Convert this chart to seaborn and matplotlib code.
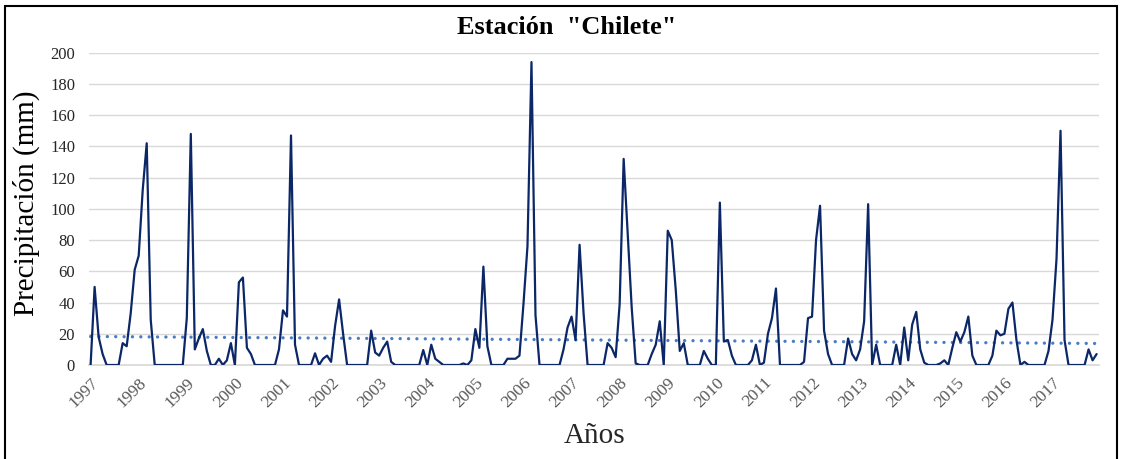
import numpy as np
import pandas as pd
import matplotlib
matplotlib.use("Agg")
import matplotlib.pyplot as plt
import seaborn as sns
from matplotlib.patches import Rectangle

years = list(range(1997, 2018))
precip = [
    0, 50, 18, 7, 0, 0, 0, 0, 14, 12, 33, 61,          # 1997
    70, 112, 142, 29, 0, 0, 0, 0, 0, 0, 0, 0,          # 1998
    30, 148, 10, 17, 23, 9, 0, 0, 4, 0, 3, 14,         # 1999
    0, 53, 56, 11, 7, 0, 0, 0, 0, 0, 0, 10,            # 2000
    35, 31, 147, 13, 0, 0, 0, 0, 7.5, 0, 4, 6,         # 2001
    2, 25, 42, 20, 0, 0, 0, 0, 0, 0, 22, 8,            # 2002
    6, 11, 15, 2, 0, 0, 0, 0, 0, 0, 0, 9.6,            # 2003
    0, 13, 4, 2, 0, 0, 0, 0, 0, 1, 0, 3,               # 2004
    23, 11, 63, 12, 0, 0, 0, 0, 4, 4, 4, 6,            # 2005
    39, 76, 194, 32, 0, 0, 0, 0, 0, 0, 10, 24,         # 2006
    31, 16, 77, 33, 0, 0, 0, 0, 0, 14, 11, 5,          # 2007
    39, 132, 84, 37, 1, 0, 0, 0, 7, 13, 28, 0,         # 2008
    86, 80, 48, 9, 14, 0, 0, 0, 0, 9, 4, 0,            # 2009
    0, 104, 15, 16, 6, 0, 0, 0, 0, 3, 13, 0,           # 2010
    1.5, 20, 30, 49, 0, 0, 0, 0, 0, 0, 2, 30,          # 2011
    31, 80, 102, 22, 7, 0, 0, 0, 0, 17, 7, 3,          # 2012
    10, 28, 103, 0, 13, 0, 0, 0, 0, 13, 0, 24,         # 2013
    3, 26, 34, 10, 1.5, 0, 0, 0, 1, 3, 0, 11,          # 2014
    21, 15, 21, 31, 6, 0, 0, 0, 0, 6, 22, 19,          # 2015
    20, 36, 40, 16, 0, 2, 0, 0, 0, 0, 0, 9,            # 2016
    29, 68, 150, 16, 0, 0, 0, 0, 0, 10, 3, 7,          # 2017
]
y_ticks = list(range(0, 201, 20))

df = pd.DataFrame({"mes": np.arange(len(precip)), "pp": precip})

sns.set_theme(style="white")
plt.rcParams["font.family"] = ["Liberation Serif", "DejaVu Serif"]

fig = plt.figure(figsize=(11.21, 4.59), dpi=100)
ax = fig.add_axes([89 / 1121, 1 - 365 / 459, (1099 - 89) / 1121, (365 - 52.7) / 459])

for yv in y_ticks:
    ax.axhline(yv, color="#D9D9D9", lw=1.0, zorder=0)

sns.regplot(data=df, x="mes", y="pp", scatter=False, ci=None, ax=ax,
            line_kws=dict(color="#4A7CC4", lw=2.4, linestyle=(0, (0.01, 2.5)),
                          dash_capstyle="round", zorder=2))
sns.lineplot(data=df, x="mes", y="pp", ax=ax, color="#0B2768", lw=1.6, zorder=3)

ax.set_xlim(-0.4, 251.6)
ax.set_ylim(0, 200)
ax.set_yticks(y_ticks)
ax.set_yticklabels([str(v) for v in y_ticks], fontsize=12, color="#262626")
ax.set_xticks([12 * k for k in range(len(years))])
ax.set_xticklabels([str(y) for y in years], fontsize=12.5, color="#595959",
                   rotation=45, ha="right", va="top", rotation_mode="anchor")
ax.tick_params(axis="y", length=0, pad=10)
ax.tick_params(axis="x", length=0, pad=7)
for s in ["top", "right", "left"]:
    ax.spines[s].set_visible(False)
ax.spines["bottom"].set_color("#D9D9D9")
ax.set_xlabel("")
ax.set_ylabel("")

fig.text(567 / 1121, 1 - 28 / 459, 'Estación  "Chilete"', ha="center", va="center",
         fontsize=19, fontweight="bold", color="black")
fig.text(26 / 1121, 1 - 203 / 459, "Precipitación (mm)", ha="center", va="center",
         rotation=90, fontsize=21, color="black")
fig.text(595 / 1121, 1 - 436 / 459, "Años", ha="center", va="center",
         fontsize=21, color="#262626")

fig.patches.append(Rectangle((5 / 1121, -0.01), (1117 - 5) / 1121, 1 - 6 / 459 + 0.01,
                             transform=fig.transFigure, fill=False, edgecolor="black",
                             lw=1.5, zorder=10))

fig.savefig("out.png", dpi=100)
